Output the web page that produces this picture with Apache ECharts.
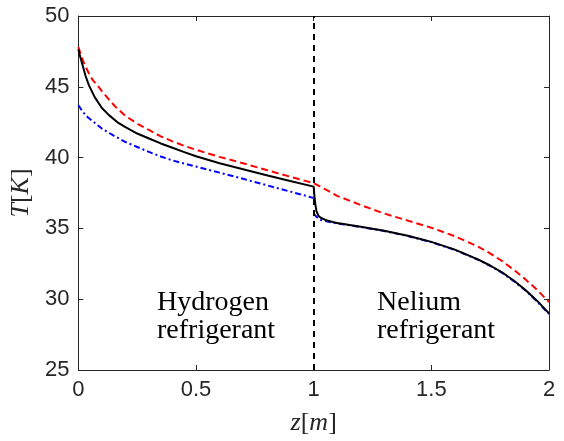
<!DOCTYPE html>
<html>
<head>
<meta charset="utf-8">
<script src="https://cdn.jsdelivr.net/npm/echarts@6/dist/echarts.min.js"></script>
<style>
  html, body { margin: 0; padding: 0; background: #fff; }
  #chart { width: 564px; height: 441px; }
</style>
</head>
<body>
<div id="chart"></div>
<script>
// Temperature profiles T(z) along the exchanger; the hydrogen section runs 0..1 m, the nelium section 1..2 m
var xTicks = [0, 0.5, 1, 1.5, 2];
var yTicks = [25, 30, 35, 40, 45, 50];
var sectionBoundary = 1;

// red dashed profile
var redZ = [0, 0.01, 0.02, 0.03, 0.04, 0.06, 0.086, 0.1, 0.13, 0.16, 0.2, 0.25, 0.3, 0.35, 0.4, 0.45, 0.5, 0.6, 0.7, 0.8, 0.9, 1.0,
            1.05, 1.1, 1.2, 1.3, 1.4, 1.5, 1.6, 1.7, 1.75, 1.8, 1.85, 1.9, 1.95, 2.0];
var redT = [47.8, 47.3, 46.85, 46.45, 46.1, 45.5, 45.0, 44.7, 44.1, 43.55, 42.95, 42.4, 41.95, 41.5, 41.15, 40.83, 40.55, 40.05, 39.6, 39.12, 38.65, 38.2,
            37.75, 37.3, 36.65, 36.05, 35.55, 35.05, 34.45, 33.7, 33.23, 32.7, 32.08, 31.4, 30.65, 29.8];

// black solid profile
var blackZ = [0, 0.005, 0.01, 0.02, 0.03, 0.045, 0.07, 0.1, 0.13, 0.17, 0.2, 0.25, 0.3, 0.35, 0.4, 0.45, 0.5, 0.6, 0.7, 0.8, 0.9, 1.0,
              1.003, 1.007, 1.012, 1.02, 1.03, 1.05, 1.08, 1.1, 1.2, 1.3, 1.4, 1.5, 1.6, 1.7, 1.75, 1.8, 1.85, 1.9, 1.95, 2.0];
var blackT = [47.65, 47.3, 47.0, 46.4, 45.8, 45.1, 44.25, 43.5, 43.0, 42.45, 42.15, 41.7, 41.35, 41.0, 40.7, 40.39, 40.1, 39.6, 39.18, 38.76, 38.35, 37.95,
              37.3, 36.7, 36.2, 35.9, 35.75, 35.6, 35.45, 35.38, 35.12, 34.83, 34.48, 34.05, 33.5, 32.8, 32.38, 31.9, 31.32, 30.65, 29.88, 29.0];

// blue dash-dot profile, hydrogen part
var blueHZ = [0, 0.01, 0.02, 0.04, 0.07, 0.1, 0.15, 0.2, 0.25, 0.3, 0.35, 0.4, 0.5, 0.6, 0.7, 0.8, 0.9, 1.0];
var blueHT = [43.7, 43.45, 43.2, 42.85, 42.45, 42.05, 41.55, 41.1, 40.75, 40.4, 40.08, 39.8, 39.37, 38.94, 38.5, 38.05, 37.6, 37.15];

// blue dash-dot profile, nelium part
var blueNZ = [1.0, 1.01, 1.02, 1.03, 1.05, 1.08, 1.1, 1.2, 1.3, 1.4, 1.5, 1.6, 1.7, 1.75, 1.8, 1.85, 1.9, 1.95, 2.0];
var blueNT = [36.05, 35.85, 35.7, 35.6, 35.52, 35.41, 35.35, 35.1, 34.81, 34.46, 34.03, 33.48, 32.78, 32.35, 31.87, 31.28, 30.62, 29.83, 28.95];

function pairs(zs, ts) {
  return zs.map(function (z, i) { return [z, ts[i]]; });
}

var axisColor = '#262626';
var tickFont = { color: axisColor, fontSize: 22, fontFamily: '"Liberation Sans", Arial, sans-serif', margin: 9 };
var serif = '"Liberation Serif", "Times New Roman", serif';
var mathRich = {
  it: { fontFamily: serif, fontStyle: 'italic', fontSize: 26, color: axisColor },
  up: { fontFamily: serif, fontSize: 26, color: axisColor }
};

function mainAxis(pos, ticks, extra) {
  var a = {
    type: 'value',
    position: pos,
    min: ticks[0],
    max: ticks[ticks.length - 1],
    interval: ticks[1] - ticks[0],
    axisLine: { show: true, onZero: false, lineStyle: { color: axisColor, width: 1 } },
    axisTick: { show: true, inside: true, length: 5, lineStyle: { color: axisColor } },
    axisLabel: tickFont,
    splitLine: { show: false }
  };
  for (var k in extra) a[k] = extra[k];
  return a;
}

function mirrorAxis(pos, ticks) {
  return {
    type: 'value',
    position: pos,
    min: ticks[0],
    max: ticks[ticks.length - 1],
    interval: ticks[1] - ticks[0],
    axisLine: { show: true, onZero: false, lineStyle: { color: axisColor, width: 1 } },
    axisTick: { show: true, inside: true, length: 5, lineStyle: { color: axisColor } },
    axisLabel: { show: false },
    splitLine: { show: false }
  };
}

function profile(data, color, dash, width, z) {
  return {
    type: 'line',
    data: data,
    showSymbol: false,
    smooth: false,
    lineStyle: { color: color, width: width, type: dash, join: 'round' },
    z: z
  };
}

var labelFont = { fontFamily: serif, fontSize: 28, lineHeight: 28, fill: '#000' };

var chart = echarts.init(document.getElementById('chart'), null, { renderer: 'canvas' });

var blackSeries = profile(pairs(blackZ, blackT), '#000000', 'solid', 2, 3);
blackSeries.markLine = {
  silent: true,
  symbol: 'none',
  label: { show: false },
  lineStyle: { color: '#000000', width: 2, type: [6, 5] },
  data: [{ xAxis: sectionBoundary }]
};

chart.setOption({
  animation: false,
  backgroundColor: '#fff',
  grid: { left: 78, right: 15, top: 16, bottom: 67, containLabel: false },
  xAxis: [
    mainAxis('bottom', xTicks, {
      name: '{it|z}{up|[}{it|m}{up|]}',
      nameLocation: 'middle',
      nameGap: 40,
      nameTextStyle: { rich: mathRich }
    }),
    mirrorAxis('top', xTicks)
  ],
  yAxis: [
    mainAxis('left', yTicks, {
      name: '{it|T}{up|[}{it|K}{up|]}',
      nameLocation: 'middle',
      nameGap: 37,
      nameRotate: 90,
      nameTextStyle: { rich: mathRich }
    }),
    mirrorAxis('right', yTicks)
  ],
  series: [
    profile(pairs(redZ, redT), '#ff0000', [7, 4], 2, 2),
    profile(pairs(blueHZ, blueHT), '#0000ff', [6, 3, 2, 3], 2, 2),
    profile(pairs(blueNZ, blueNT), '#0000ff', [6, 3, 2, 3], 2, 2),
    blackSeries
  ],
  graphic: [
    { type: 'text', left: 157, top: 289, style: Object.assign({ text: 'Hydrogen\nrefrigerant' }, labelFont) },
    { type: 'text', left: 377, top: 289, style: Object.assign({ text: 'Nelium\nrefrigerant' }, labelFont) }
  ]
});
</script>
</body>
</html>
